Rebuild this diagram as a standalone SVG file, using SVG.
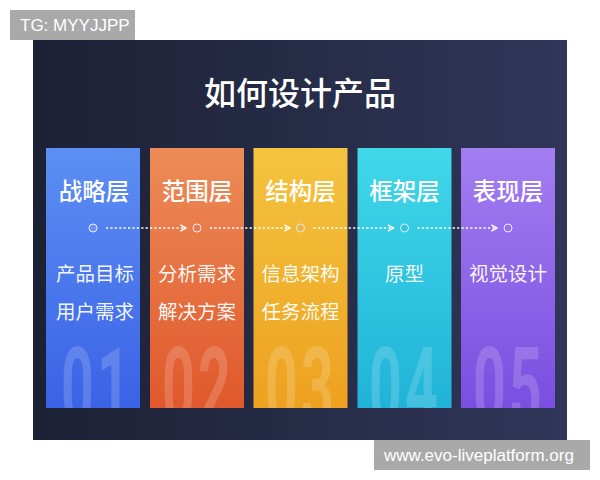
<svg xmlns="http://www.w3.org/2000/svg" width="600" height="480" viewBox="0 0 600 480">
<defs>
<linearGradient id="bg" x1="0" y1="0" x2="1" y2="0"><stop offset="0" stop-color="#1d2134"/><stop offset="1" stop-color="#303659"/></linearGradient>
<linearGradient id="g1" x1="0" y1="0" x2="0" y2="1"><stop offset="0" stop-color="#5d8ff3"/><stop offset="1" stop-color="#3a62e6"/></linearGradient>
<linearGradient id="g2" x1="0" y1="0" x2="0" y2="1"><stop offset="0" stop-color="#ed8c58"/><stop offset="1" stop-color="#e0582c"/></linearGradient>
<linearGradient id="g3" x1="0" y1="0" x2="0" y2="1"><stop offset="0" stop-color="#f4c43f"/><stop offset="1" stop-color="#eda11f"/></linearGradient>
<linearGradient id="g4" x1="0" y1="0" x2="0" y2="1"><stop offset="0" stop-color="#40d8e9"/><stop offset="1" stop-color="#20b3d8"/></linearGradient>
<linearGradient id="g5" x1="0" y1="0" x2="0" y2="1"><stop offset="0" stop-color="#a27ef1"/><stop offset="1" stop-color="#7a4ee0"/></linearGradient>
<clipPath id="c1"><rect x="46" y="148" width="94" height="260"/></clipPath>
<clipPath id="c2"><rect x="150" y="148" width="94" height="260"/></clipPath>
<clipPath id="c3"><rect x="253.5" y="148" width="94" height="260"/></clipPath>
<clipPath id="c4"><rect x="357.5" y="148" width="94" height="260"/></clipPath>
<clipPath id="c5"><rect x="461" y="148" width="94" height="260"/></clipPath>
<marker id="ah" viewBox="0 0 10 10" refX="8" refY="5" markerWidth="8" markerHeight="8" markerUnits="userSpaceOnUse" orient="auto"><path d="M1,1 L8,5 L1,9" fill="none" stroke="#ffffff" stroke-width="1.8"/></marker>
</defs>
<style>
.cjk{font-family:"Noto Sans CJK SC","Noto Sans",sans-serif;fill:#ffffff;text-anchor:middle}
.title{font-size:32px;font-weight:500}
.head{font-size:23.5px;font-weight:500}
.body{font-size:19.5px;fill-opacity:0.95}
.num{font-family:Roboto,"Liberation Sans",sans-serif;font-size:108px;font-weight:bold;letter-spacing:6px;fill:#ffffff;fill-opacity:0.17}
.lbl{font-family:"Liberation Sans",Arial,sans-serif;fill:#ffffff;font-size:17px}
.dot{stroke:#e8ecff;stroke-width:1}
.conn{stroke:#ffffff;stroke-width:1.4;stroke-dasharray:2.2 2.2;fill:none}
</style>
<rect x="33" y="40" width="534" height="400" fill="url(#bg)"/>
<text class="cjk title" x="300" y="105">如何设计产品</text>

<g id="n1">
<rect x="46" y="148" width="94" height="260" fill="url(#g1)"/>
<g clip-path="url(#c1)"><text class="num" transform="translate(61,424) scale(0.53,1)">01</text></g>
<text class="cjk head" x="94" y="200">战略层</text>
<circle class="dot" cx="93" cy="228" r="4" fill="#6f8ff0"/>
<text class="cjk body" x="95" y="281">产品目标</text>
<text class="cjk body" x="95" y="319">用户需求</text>
</g>
<g id="n2">
<rect x="150" y="148" width="94" height="260" fill="url(#g2)"/>
<g clip-path="url(#c2)"><text class="num" transform="translate(162,424) scale(0.53,1)">02</text></g>
<text class="cjk head" x="197" y="200">范围层</text>
<circle class="dot" cx="197" cy="228" r="4" fill="#e9794a"/>
<text class="cjk body" x="197" y="281">分析需求</text>
<text class="cjk body" x="197" y="319">解决方案</text>
</g>
<g id="n3">
<rect x="253.5" y="148" width="94" height="260" fill="url(#g3)"/>
<g clip-path="url(#c3)"><text class="num" transform="translate(265,424) scale(0.53,1)">03</text></g>
<text class="cjk head" x="300.5" y="200">结构层</text>
<circle class="dot" cx="300.5" cy="228" r="4" fill="#f0b43a"/>
<text class="cjk body" x="300.5" y="281">信息架构</text>
<text class="cjk body" x="300.5" y="319">任务流程</text>
</g>
<g id="n4">
<rect x="357.5" y="148" width="94" height="260" fill="url(#g4)"/>
<g clip-path="url(#c4)"><text class="num" transform="translate(369,424) scale(0.53,1)">04</text></g>
<text class="cjk head" x="404.5" y="200">框架层</text>
<circle class="dot" cx="404.5" cy="228" r="4" fill="#33c6e2"/>
<text class="cjk body" x="404.5" y="281">原型</text>
</g>
<g id="n5">
<rect x="461" y="148" width="94" height="260" fill="url(#g5)"/>
<g clip-path="url(#c5)"><text class="num" transform="translate(473,424) scale(0.53,1)">05</text></g>
<text class="cjk head" x="508" y="200">表现层</text>
<circle class="dot" cx="508" cy="228" r="4" fill="#9470ec"/>
<text class="cjk body" x="508" y="281">视觉设计</text>
</g>

<g id="connectors">
<line class="conn" x1="106" y1="228" x2="186" y2="228" marker-end="url(#ah)"/>
<line class="conn" x1="210" y1="228" x2="290" y2="228" marker-end="url(#ah)"/>
<line class="conn" x1="313.5" y1="228" x2="393.5" y2="228" marker-end="url(#ah)"/>
<line class="conn" x1="417.5" y1="228" x2="497" y2="228" marker-end="url(#ah)"/>
</g>

<rect x="10" y="10" width="125" height="30" fill="#a9a9a9"/>
<text class="lbl" x="20" y="31">TG: MYYJJPP</text>
<rect x="374" y="440" width="216" height="30" fill="#a9a9a9"/>
<text class="lbl" x="384" y="461">www.evo-liveplatform.org</text>
</svg>
